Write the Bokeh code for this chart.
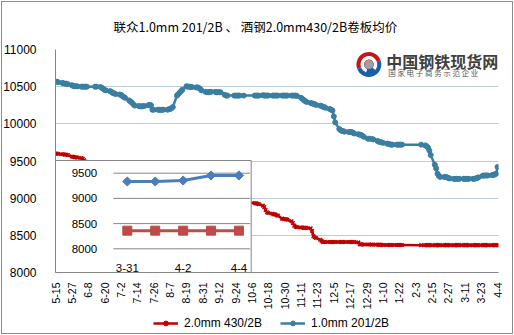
import math
import pandas as pd
from bokeh.plotting import figure
from bokeh.layouts import column
from bokeh.models import (Range1d, FixedTicker, Legend, LegendItem, ColumnDataSource,
                          InlineStyleSheet)
from bokeh.core.properties import value
from bokeh.embed import file_html
from bokeh.resources import INLINE

# ---------------- data ----------------
TITLE = "联众1.0mm 201/2B 、 酒钢2.0mm430/2B卷板均价"
RED_NAME = "2.0mm 430/2B"
BLUE_NAME = "1.0mm 201/2B"
X_TICK_LABELS = ["5-15", "5-27", "6-8", "6-20", "7-2", "7-14", "7-26", "8-7", "8-19", "8-31",
                 "9-12", "9-24", "10-6", "10-18", "10-30", "11-11", "11-23", "12-5", "12-17",
                 "12-29", "1-10", "1-22", "2-3", "2-15", "2-27", "3-11", "3-23", "4-4"]
Y_TICKS = [8000, 8500, 9000, 9500, 10000, 10500, 11000]
START, END = "2013-05-15", "2014-04-04"
NO_QUOTE_DAYS = ["2013-06-10", "2013-06-11", "2013-06-12", "2013-09-19", "2013-09-20",
                 "2013-10-01", "2013-10-02", "2013-10-03", "2013-10-04", "2013-10-07",
                 "2014-01-01", "2014-01-27", "2014-01-28", "2014-01-29", "2014-01-30",
                 "2014-01-31", "2014-02-03", "2014-02-04", "2014-02-05", "2014-02-06"]

blue_may = [10570, 10565, 10560, 10550, 10545, 10540, 10540, 10535, 10520, 10510, 10505, 10505, 10505]
blue_jun = [10500, 10500, 10500, 10500, 10500, 10500, 10500, 10495, 10485, 10470, 10455, 10450,
            10440, 10430, 10415, 10410, 10400]
blue_jul = [10395, 10390, 10375, 10360, 10350, 10315, 10300, 10285, 10265, 10245, 10240, 10235,
            10235, 10235, 10240, 10250, 10255, 10250, 10190, 10190, 10190, 10190, 10185]
blue_aug = [10190, 10190, 10190, 10195, 10200, 10210, 10225, 10380, 10400, 10420, 10440, 10460,
            10505, 10500, 10500, 10495, 10495, 10490, 10490, 10485, 10470, 10450]
blue_sep = [10430, 10425, 10425, 10430, 10430, 10430, 10425, 10425, 10425, 10425, 10390, 10380,
            10380, 10380, 10380, 10380, 10380, 10380, 10380]
blue_oct = [10380, 10380, 10380, 10380, 10385, 10380, 10380, 10380, 10380, 10380, 10380, 10380,
            10380, 10380, 10380, 10380, 10380, 10380]
blue_nov = [10380, 10380, 10380, 10380, 10380, 10375, 10350, 10335, 10320, 10305, 10295, 10280,
            10275, 10270, 10265, 10255, 10245, 10240, 10230, 10225, 10215]
blue_dec = [10200, 10190, 10180, 10100, 10020, 9930, 9915, 9905, 9900, 9895, 9890, 9890, 9890,
            9880, 9870, 9860, 9855, 9850, 9840, 9825, 9800, 9800]
blue_jan = [9795, 9790, 9770, 9760, 9755, 9750, 9745, 9735, 9730, 9725, 9720, 9720, 9720, 9720,
            9720, 9720, 9720]
blue_feb = [9720, 9710, 9700, 9680, 9640, 9580, 9450, 9400, 9330, 9300, 9285, 9285, 9285, 9280,
            9270, 9265]
blue_mar = [9260, 9260, 9260, 9260, 9260, 9260, 9260, 9260, 9260, 9260, 9260, 9260, 9265, 9270,
            9280, 9300, 9305, 9305, 9305, 9305, 9310]
blue_apr = [9310, 9320, 9330, 9420]

red_may = [9600, 9600, 9595, 9590, 9590, 9585, 9585, 9580, 9560, 9555, 9550, 9550, 9545]
red_jun = [9540, 9530, 9510, 9490, 9470, 9440, 9430, 9420, 9410, 9400, 9395, 9390, 9380, 9370,
           9360, 9355, 9350]
red_jul = [9340, 9330, 9320, 9310, 9300, 9290, 9280, 9270, 9260, 9250, 9240, 9230, 9220, 9210,
           9200, 9195, 9190, 9180, 9170, 9160, 9150, 9140, 9130]
red_aug = [9120, 9115, 9110, 9100, 9090, 9080, 9070, 9060, 9050, 9045, 9040, 9030, 9020, 9010,
           9005, 9000, 8995, 8990, 8985, 8980, 8975, 8970]
red_sep = [8965, 8960, 8960, 8955, 8955, 8950, 8950, 8950, 8945, 8945, 8945, 8940, 8940, 8940,
           8940, 8940, 8940, 8940, 8940]
red_oct = [8935, 8930, 8925, 8920, 8900, 8880, 8840, 8810, 8800, 8790, 8785, 8780, 8770, 8765,
           8725, 8720, 8720, 8715]
red_nov = [8710, 8690, 8665, 8630, 8615, 8610, 8605, 8605, 8600, 8600, 8600, 8595, 8560, 8490,
           8475, 8465, 8440, 8425, 8410, 8410, 8410]
red_dec = [8410, 8410, 8410, 8410, 8410, 8410, 8410, 8410, 8410, 8410, 8410, 8410, 8410, 8410,
           8410, 8405, 8380, 8378, 8377, 8377, 8377, 8377]
red_jan = [8375, 8375, 8375, 8372, 8372, 8372, 8370, 8370, 8370, 8370, 8370, 8370, 8370, 8370,
           8370, 8370, 8370]
red_feb = [8368, 8368, 8368, 8368, 8368, 8368, 8368, 8368, 8368, 8368, 8368, 8368, 8368, 8368,
           8368, 8368]
red_mar = [8368, 8368, 8368, 8368, 8368, 8368, 8368, 8368, 8368, 8368, 8368, 8368, 8368, 8368,
           8368, 8368, 8368, 8368, 8368, 8368, 8368]
red_apr = [8368, 8368, 8368, 8368]

INSET_CATS = ["3-31", "4-1", "4-2", "4-3", "4-4"]
INSET_TICK_LABELS = ["3-31", "4-2", "4-4"]
INSET_Y_TICKS = [8000, 8500, 9000, 9500]
INSET_BLUE = [9335, 9335, 9355, 9455, 9455]
INSET_RED = [8360, 8360, 8360, 8360, 8360]

LOGO_MAIN = "中国钢铁现货网"
LOGO_SUB = "国 家 电 子 商 务 示 范 企 业"

# ---------------- build ----------------
blue = (blue_may + blue_jun + blue_jul + blue_aug + blue_sep + blue_oct + blue_nov + blue_dec
        + blue_jan + blue_feb + blue_mar + blue_apr)
red = (red_may + red_jun + red_jul + red_aug + red_sep + red_oct + red_nov + red_dec
       + red_jan + red_feb + red_mar + red_apr)

start = pd.Timestamp(START)
days = pd.bdate_range(START, END)
days = days[~days.isin(pd.to_datetime(NO_QUOTE_DAYS))]
xs = [int((d - start).days) for d in days]
assert len(xs) == len(blue) == len(red), (len(xs), len(blue), len(red))


def md_offset(s):
    m, d = (int(v) for v in s.split("-"))
    year = start.year if m >= start.month else start.year + 1
    return int((pd.Timestamp(year, m, d) - start).days)


x_ticks = [md_offset(s) for s in X_TICK_LABELS]
longest = max(len(s) for s in X_TICK_LABELS)
# pad with no-break spaces (2 per missing digit) so the rotated labels all end at the axis
padded = {t: "\u00a0" * (2 * (longest - len(s))) + s for t, s in zip(x_ticks, X_TICK_LABELS)}

BLUE = "#3A7FA2"
RED = "#C00000"
GRID = "#B9CDD6"
AXIS = "#868686"
FONT = "Liberation Sans"
CJK = "Noto Sans CJK SC"

p = figure(width=514, height=314, output_backend="svg", toolbar_location=None,
           x_range=Range1d(0, 324.7), y_range=Range1d(8000, 11000),
           min_border_left=52, min_border_right=16, min_border_top=49, min_border_bottom=42,
           background_fill_color="white", border_fill_color="white")
p.outline_line_color = None
p.title.text = TITLE
p.title.align = "left"
p.title.offset = 58
p.title.standoff = 28
p.title.text_font = CJK
p.title.text_font_size = "12.5px"
p.title.text_font_style = "normal"
p.title.text_color = "#000000"

# helper ranges: canvas pixels (y up) and inset chart scales
p.extra_x_ranges = {"px": Range1d(52, 498), "ix": Range1d(-2.573, 13.299)}
p.extra_y_ranges = {"py": Range1d(63, 286), "iy": Range1d(7530, 11954)}

p.yaxis.ticker = FixedTicker(ticks=Y_TICKS)
p.yaxis.major_tick_line_color = None
p.yaxis.minor_tick_line_color = None
p.yaxis.axis_line_color = AXIS
p.yaxis.major_label_standoff = 13
p.yaxis.major_label_text_font = FONT
p.yaxis.major_label_text_font_size = "12px"
p.yaxis.major_label_text_color = "#000000"

p.xaxis.ticker = FixedTicker(ticks=x_ticks)
p.xaxis.major_label_overrides = padded
p.xaxis.major_label_orientation = math.pi / 2
p.xaxis.major_tick_line_color = None
p.xaxis.major_tick_out = 0
p.xaxis.minor_tick_line_color = None
p.xaxis.axis_line_color = AXIS
p.xaxis.major_label_standoff = 10
p.xaxis.major_label_text_font = FONT
p.xaxis.major_label_text_font_size = "10.5px"
p.xaxis.major_label_text_color = "#000000"

p.xgrid.grid_line_color = None
p.ygrid.ticker = FixedTicker(ticks=Y_TICKS)
p.ygrid.grid_line_color = GRID

src_b = ColumnDataSource(dict(x=xs, y=blue))
src_r = ColumnDataSource(dict(x=xs, y=red))
p.line("x", "y", source=src_r, line_color=RED, line_width=2.5)
p.scatter("x", "y", source=src_r, marker="x", size=5, line_color=RED, line_width=1.5)
p.line("x", "y", source=src_b, line_color=BLUE, line_width=2.5)
p.scatter("x", "y", source=src_b, marker="circle", size=5, fill_color=BLUE, line_color=BLUE)

# ---------------- inset ----------------
p.quad(left=[52], right=[249], bottom=[63], top=[175], fill_color="white",
       line_color=AXIS, line_width=1, x_range_name="px", y_range_name="py")
p.segment(x0=[-0.5] * len(INSET_Y_TICKS), x1=[4.4] * len(INSET_Y_TICKS), y0=INSET_Y_TICKS,
          y1=INSET_Y_TICKS, line_color=AXIS, line_width=1, x_range_name="ix", y_range_name="iy")
p.text(x=[94] * len(INSET_Y_TICKS), y=INSET_Y_TICKS, text=[str(v) for v in INSET_Y_TICKS],
       text_align="right", text_baseline="middle", text_font=value(FONT), text_font_size="11.5px",
       text_color="#000000", x_range_name="px", y_range_name="iy")
ix = list(range(len(INSET_CATS)))
p.text(x=[INSET_CATS.index(s) for s in INSET_TICK_LABELS], y=[68] * len(INSET_TICK_LABELS),
       text=INSET_TICK_LABELS, text_align="center", text_baseline="middle", text_font=value(FONT),
       text_font_size="11.5px", text_color="#000000", x_range_name="ix", y_range_name="py")
p.line(ix, INSET_BLUE, line_color="#4A7EBB", line_width=3, x_range_name="ix", y_range_name="iy")
p.scatter(ix, INSET_BLUE, marker="square", angle=math.pi / 4, size=6.5, fill_color="#4A7EBB",
          line_color="#4A7EBB", x_range_name="ix", y_range_name="iy")
p.line(ix, INSET_RED, line_color="#BE4B48", line_width=3, x_range_name="ix", y_range_name="iy")
p.scatter(ix, INSET_RED, marker="square", size=9, fill_color="#BE4B48", line_color="#BE4B48",
          x_range_name="ix", y_range_name="iy")

# ---------------- logo ----------------
cx, cy = 367.5, 271
p.wedge(x=[cx], y=[cy], radius=12.5, start_angle=math.radians(20), end_angle=math.radians(200),
        fill_color="#C4161C", line_color=None, x_range_name="px", y_range_name="py")
p.wedge(x=[cx], y=[cy], radius=12.5, start_angle=math.radians(200), end_angle=math.radians(380),
        fill_color="#1B5EA6", line_color=None, x_range_name="px", y_range_name="py")
p.annular_wedge(x=[cx], y=[cy], inner_radius=5, outer_radius=8.5, start_angle=math.radians(-40),
                end_angle=math.radians(250), fill_color="white", line_color=None,
                x_range_name="px", y_range_name="py")
p.scatter(x=[cx], y=[cy], marker="circle", size=9, fill_color="#A0A0A0", line_color=None,
          x_range_name="px", y_range_name="py")
p.text(x=[385], y=[275], text=[LOGO_MAIN], text_font=value(CJK), text_font_size="16px",
       text_font_style="bold", text_color="#404040", text_baseline="middle",
       x_range_name="px", y_range_name="py")
p.text(x=[387], y=[263], text=[LOGO_SUB], text_font=value(CJK), text_font_size="7.5px",
       text_color="#555555", text_baseline="middle", x_range_name="px", y_range_name="py")

# ---------------- legend strip (separate small figure) ----------------
lg = figure(width=514, height=21, output_backend="svg", toolbar_location=None,
            x_range=Range1d(0, 1), y_range=Range1d(0, 1),
            min_border_left=0, min_border_right=0, min_border_top=0, min_border_bottom=0,
            background_fill_color="white", border_fill_color="white")
lg.outline_line_color = None
lg.axis.visible = False
lg.grid.visible = False
# legend swatches only: placed outside the strip's ranges, so only the legend shows them
lr_line = lg.line(x=[5, 6], y=[5, 5], line_color=RED, line_width=2.5)
lr_pts = lg.scatter(x=[5], y=[5], marker="circle", size=4, fill_color=RED, line_color=RED)
lb_line = lg.line(x=[5, 6], y=[5, 5], line_color=BLUE, line_width=2.5)
lb_pts = lg.scatter(x=[5], y=[5], marker="circle", size=5, fill_color=BLUE, line_color=BLUE)
legend = Legend(items=[LegendItem(label=RED_NAME, renderers=[lr_line, lr_pts]),
                       LegendItem(label=BLUE_NAME, renderers=[lb_line, lb_pts])],
                location=(98, 5), orientation="horizontal", glyph_width=25, glyph_height=12,
                label_height=12, label_standoff=6, spacing=18, padding=0, margin=0,
                border_line_color=None, background_fill_alpha=0,
                label_text_font=FONT, label_text_font_size="12px", label_text_color="#000000")
lg.add_layout(legend, "center")

frame_css = InlineStyleSheet(css=(
    ":host { position: relative; }"
    ":host::after { content: ''; position: absolute; left: 1px; top: 1px; right: 1px;"
    " bottom: 1px; border: 1px solid #8c8c8c; pointer-events: none; z-index: 10; }"))
layout = column(p, lg, spacing=0, stylesheets=[frame_css])
open("out.html", "w").write(file_html(layout, INLINE))
